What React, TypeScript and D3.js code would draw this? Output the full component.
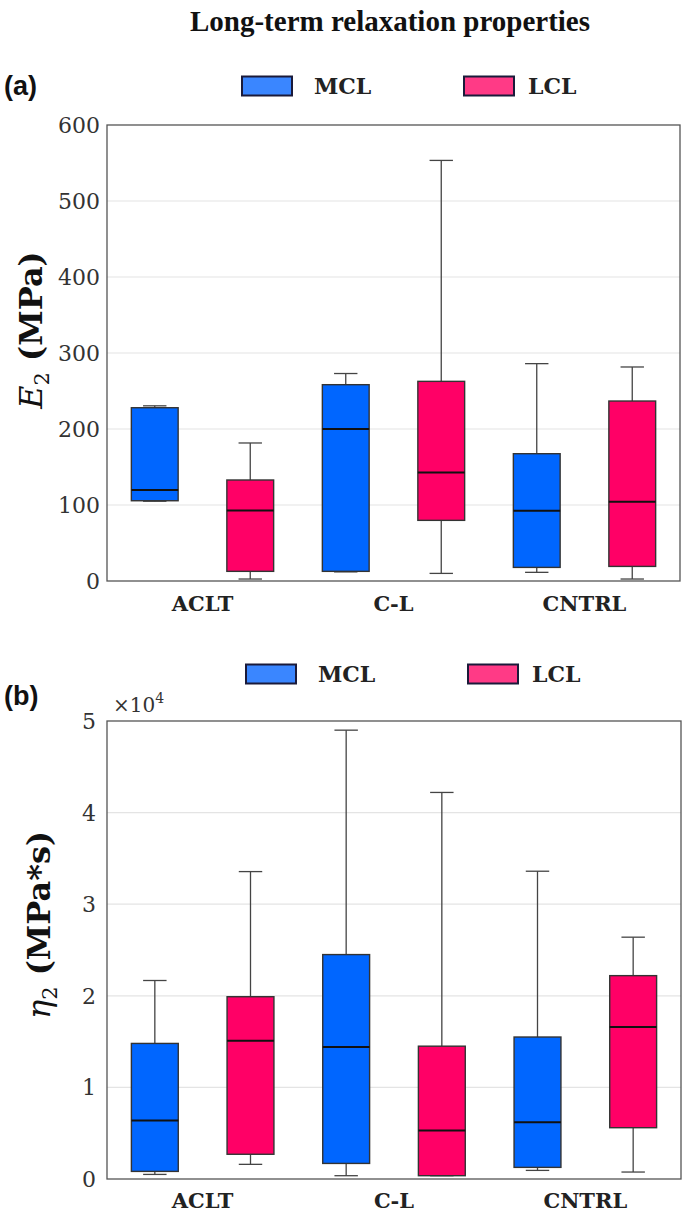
import React from "react";
import * as d3 from "d3";

const categories = ["ACLT", "C-L", "CNTRL"];
const groups = ["MCL", "LCL"];

// [min, q1, median, q3, max]
const e2MCL = [
  [105, 105.6, 119.7, 228, 230.5],
  [12, 12.7, 200, 258.3, 273],
  [11.4, 17.9, 92.5, 167.5, 286],
];
const e2LCL = [
  [2.6, 12.7, 92.9, 132.9, 181.6],
  [10, 79.8, 142.9, 262.7, 553.4],
  [2.6, 19.2, 104.3, 236.8, 281.6],
];
const eta2MCL = [
  [500, 830, 6400, 14800, 21670],
  [360, 1700, 14400, 24500, 49000],
  [940, 1270, 6200, 15500, 33600],
];
const eta2LCL = [
  [1600, 2700, 15100, 19900, 33560],
  [360, 360, 5300, 14500, 42200],
  [760, 5600, 16600, 22200, 26400],
];
const e2Ticks = [0, 100, 200, 300, 400, 500, 600];
const eta2Ticks = [0, 10000, 20000, 30000, 40000, 50000];

const boxColors = { MCL: "#0066ff", LCL: "#ff0066" };
const legendColors = { MCL: "#3a86ff", LCL: "#ff3a86" };
const TIMES = "'Liberation Serif', 'Times New Roman', serif";
const BOOK = "'DejaVu Serif', serif";
const SANS = "'Liberation Sans', Arial, sans-serif";

type PanelProps = {
  top: number;
  bottom: number;
  left: number;
  right: number;
  domain: [number, number];
  ticks: number[];
  tickFmt: (v: number) => string;
  mcl: number[][];
  lcl: number[][];
  tickRightX: number;
  catBaseline: number;
};

function Panel(p: PanelProps) {
  const y = d3.scaleLinear().domain(p.domain).range([p.bottom, p.top]);
  const slots = categories.flatMap((c) => groups.map((g) => `${c}|${g}`));
  const x = d3.scaleBand().domain(slots).range([p.left, p.right]).paddingInner(0).paddingOuter(0);
  const bw = x.bandwidth() * 0.49;
  const cap = bw * 0.5;
  const boxes: any[] = [];
  categories.forEach((c, ci) => {
    groups.forEach((g) => {
      const s = (g === "MCL" ? p.mcl : p.lcl)[ci];
      const cx = (x(`${c}|${g}`) as number) + x.bandwidth() / 2;
      const [mn, q1, md, q3, mx] = s;
      boxes.push(
        <g key={`${c}-${g}`}>
          <line x1={cx} x2={cx} y1={y(q3)} y2={y(mx)} stroke="#444" strokeWidth={1.3} />
          <line x1={cx} x2={cx} y1={y(q1)} y2={y(mn)} stroke="#444" strokeWidth={1.3} />
          <line x1={cx - cap / 2} x2={cx + cap / 2} y1={y(mx)} y2={y(mx)} stroke="#444" strokeWidth={1.3} />
          <line x1={cx - cap / 2} x2={cx + cap / 2} y1={y(mn)} y2={y(mn)} stroke="#444" strokeWidth={1.3} />
          <rect
            x={cx - bw / 2}
            y={y(q3)}
            width={bw}
            height={y(q1) - y(q3)}
            fill={(boxColors as any)[g]}
            stroke="#333"
            strokeWidth={1.4}
          />
          <line x1={cx - bw / 2} x2={cx + bw / 2} y1={y(md)} y2={y(md)} stroke="#111" strokeWidth={2} />
        </g>
      );
    });
  });
  return (
    <g>
      {p.ticks.map((t) => (
        <g key={t}>
          {t !== p.domain[0] && t !== p.domain[1] && (
            <line x1={p.left} x2={p.right} y1={y(t)} y2={y(t)} stroke="#e4e4e4" strokeWidth={1.2} />
          )}
          <text
            x={p.tickRightX}
            y={y(t)}
            dy="0.36em"
            textAnchor="end"
            fontFamily={BOOK}
            fontSize={22}
            fill="#333"
          >
            {p.tickFmt(t)}
          </text>
        </g>
      ))}
      {boxes}
      <rect
        x={p.left}
        y={p.top}
        width={p.right - p.left}
        height={p.bottom - p.top}
        fill="none"
        stroke="#555"
        strokeWidth={1.3}
      />
      {categories.map((c) => {
        const cx = ((x(`${c}|MCL`) as number) + (x(`${c}|LCL`) as number) + x.bandwidth()) / 2;
        return (
          <text
            key={c}
            x={cx}
            y={p.catBaseline}
            textAnchor="middle"
            fontFamily={BOOK}
            fontWeight="bold"
            fontSize={21}
            fill="#222"
          >
            {c}
          </text>
        );
      })}
    </g>
  );
}

function Legend({ x0, yc }: { x0: number; yc: number }) {
  const items = [
    { g: "MCL", sx: x0, tx: x0 + 72 },
    { g: "LCL", sx: x0 + 222, tx: x0 + 286 },
  ];
  return (
    <g>
      {items.map((it) => (
        <g key={it.g}>
          <rect
            x={it.sx}
            y={yc - 9.5}
            width={50}
            height={19}
            fill={(legendColors as any)[it.g]}
            stroke="#1a1a3a"
            strokeWidth={2}
          />
          <text
            x={it.tx}
            y={yc}
            dy="0.36em"
            fontFamily={BOOK}
            fontWeight="bold"
            fontSize={22}
            fill="#222"
          >
            {it.g}
          </text>
        </g>
      ))}
    </g>
  );
}

export default function App() {
  return (
    <svg
      width={685}
      height={1213}
      style={{ position: "absolute", left: 0, top: 0, background: "#fff" }}
    >
      <rect width={685} height={1213} fill="#fff" />
      <text
        x={390}
        y={31}
        textAnchor="middle"
        fontFamily={TIMES}
        fontWeight="bold"
        fontSize={29}
        fill="#111"
      >
        Long-term relaxation properties
      </text>

      {/* Panel (a) */}
      <text x={4} y={95} fontFamily={SANS} fontWeight="bold" fontSize={27} fill="#111">
        (a)
      </text>
      <Legend x0={242} yc={86} />
      <Panel
        top={125}
        bottom={581}
        left={107}
        right={680}
        domain={[0, 600]}
        ticks={e2Ticks}
        tickFmt={(v) => String(v)}
        mcl={e2MCL}
        lcl={e2LCL}
        tickRightX={100}
        catBaseline={611}
      />
      <text
        transform="translate(42,330) rotate(-90)"
        textAnchor="middle"
        fontFamily={BOOK}
        fontSize={32}
        fill="#111"
      >
        <tspan fontStyle="italic">E</tspan>
        <tspan fontSize={21} dy={7}>2</tspan>
        <tspan dy={-7} fontWeight="bold">{"\u00a0(MPa)"}</tspan>
      </text>

      {/* Panel (b) */}
      <text x={4} y={705} fontFamily={SANS} fontWeight="bold" fontSize={27} fill="#111">
        (b)
      </text>
      <Legend x0={246} yc={674} />
      <text x={113} y={712} fontFamily={BOOK} fontSize={20} fill="#333">
        {"\u00d710"}
        <tspan fontSize={14} dy={-9}>4</tspan>
      </text>
      <Panel
        top={721}
        bottom={1179}
        left={107}
        right={681}
        domain={[0, 50000]}
        ticks={eta2Ticks}
        tickFmt={(v) => String(v / 10000)}
        mcl={eta2MCL}
        lcl={eta2LCL}
        tickRightX={96}
        catBaseline={1208}
      />
      <text
        transform="translate(50,925) rotate(-90)"
        textAnchor="middle"
        fontFamily={BOOK}
        fontSize={32}
        fill="#111"
      >
        <tspan fontStyle="italic">{"\u03b7"}</tspan>
        <tspan fontSize={21} dy={7}>2</tspan>
        <tspan dy={-7} fontWeight="bold">{"\u00a0(MPa*s)"}</tspan>
      </text>
    </svg>
  );
}
